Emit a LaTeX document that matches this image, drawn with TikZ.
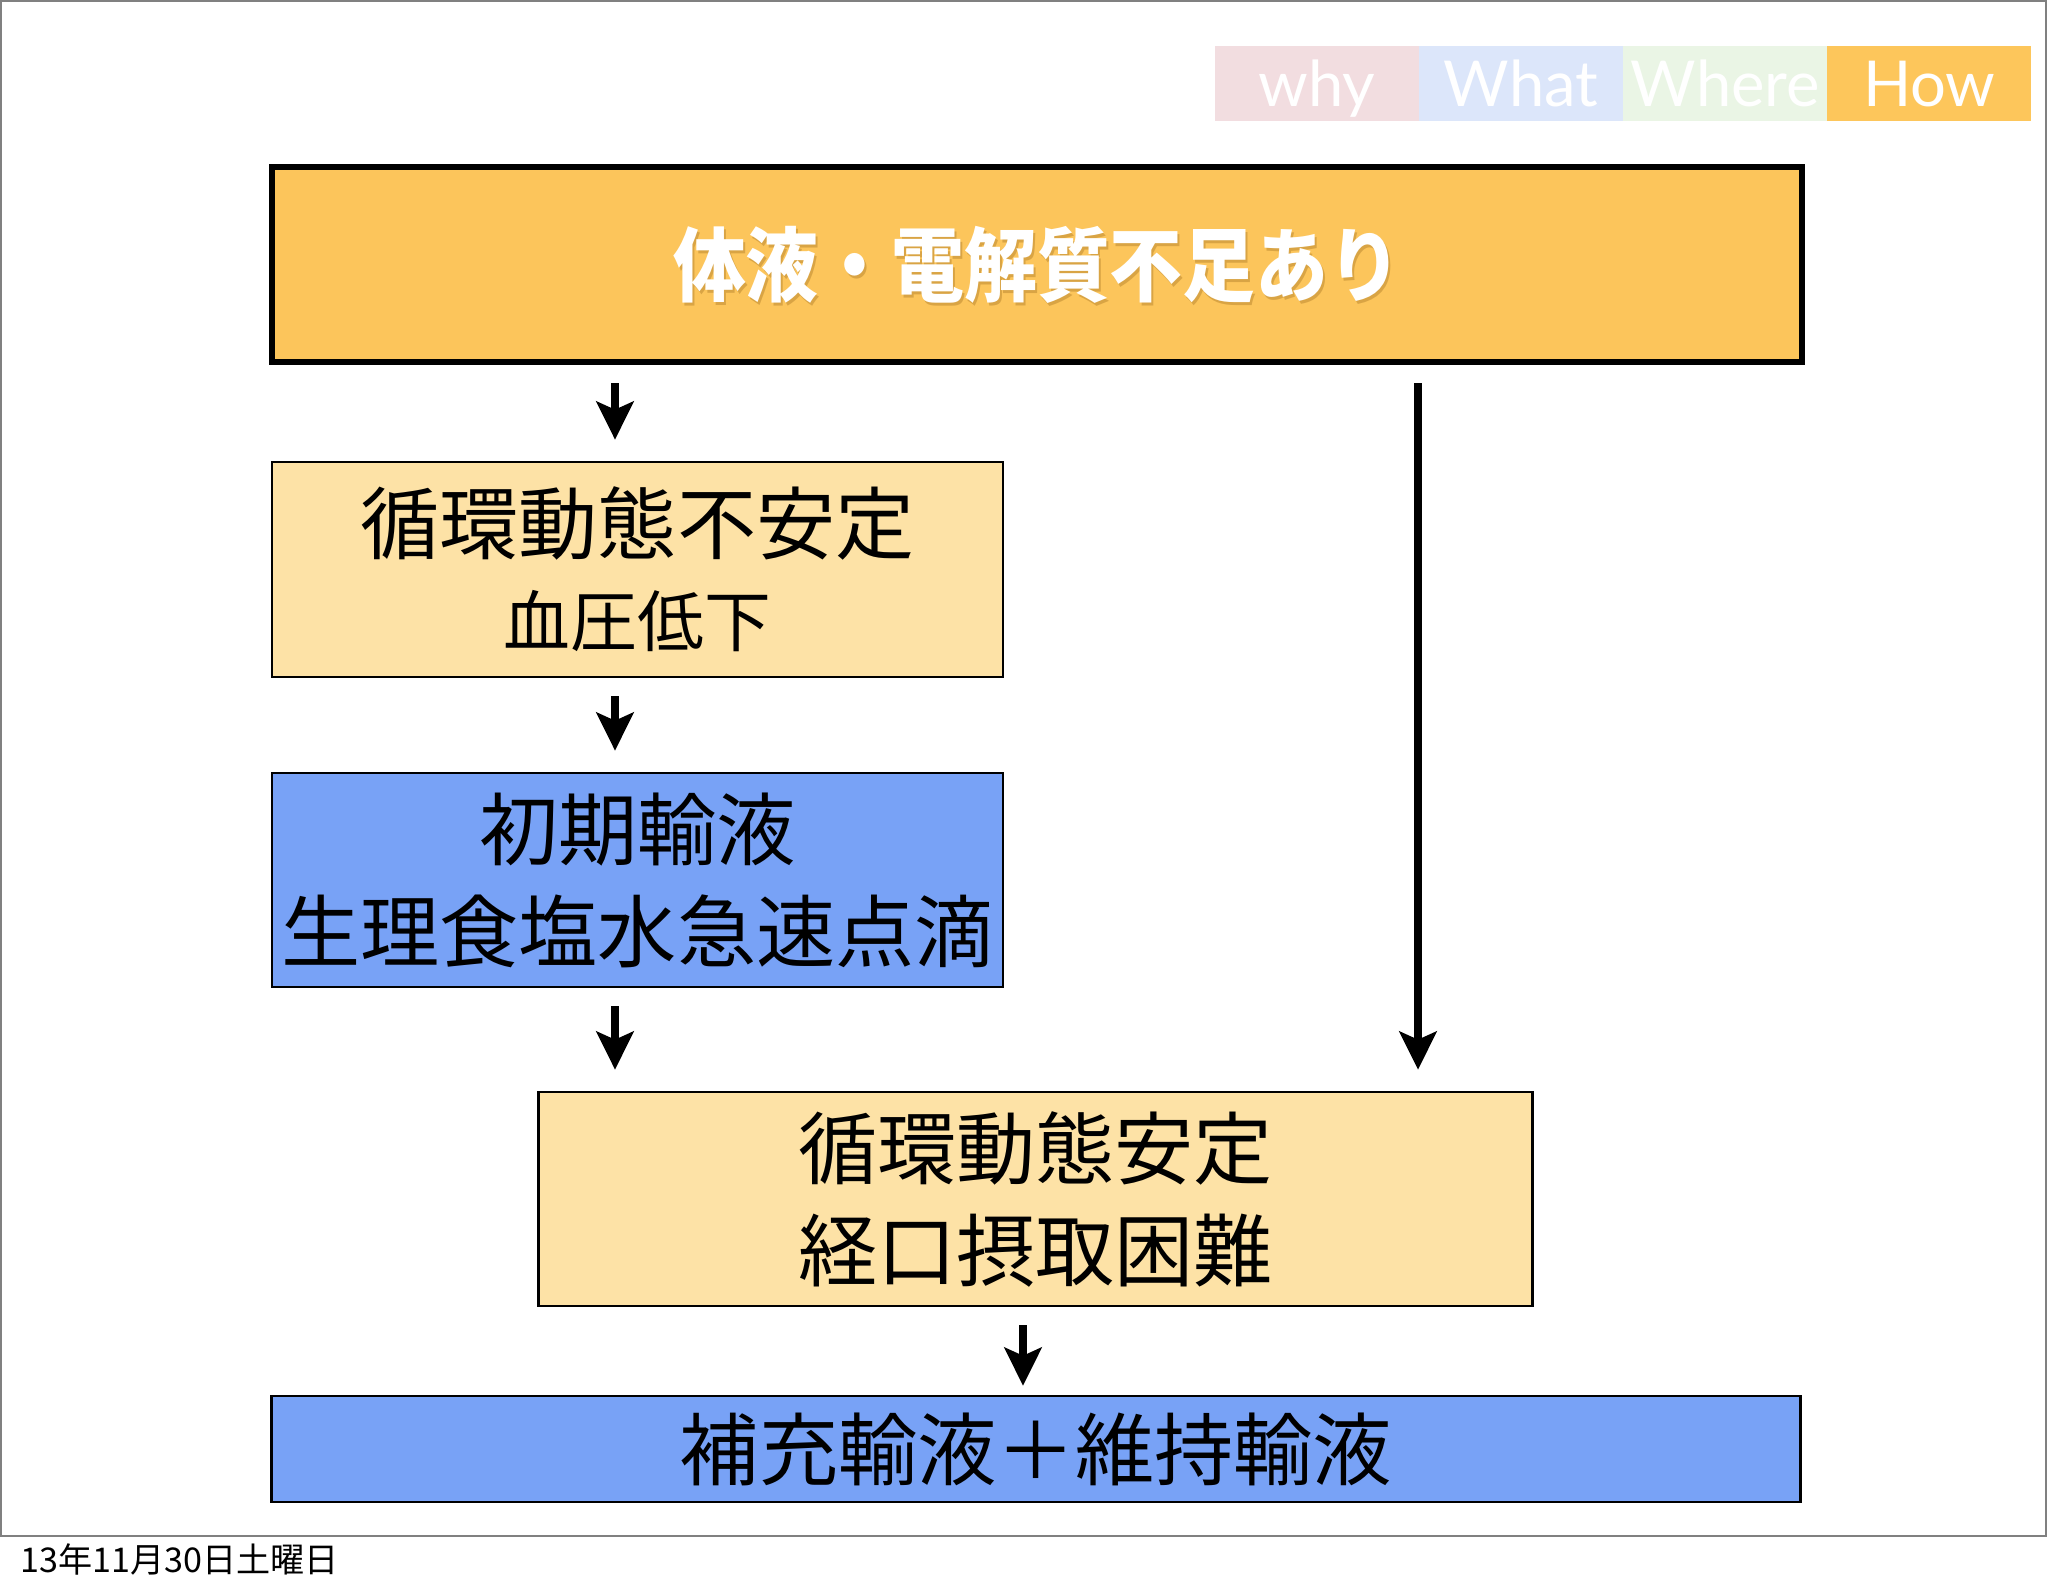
\documentclass[tikz,border=0pt]{standalone}
\usepackage{fontspec}
\setmainfont{Noto Sans CJK JP}
\newfontfamily\tabfont{Lato}
\newfontfamily\titlefont{Noto Sans CJK JP}[FakeStretch=0.9]
\usepackage{tikz}
\usetikzlibrary{arrows.meta, positioning, calc}
\definecolor{whyfill}{HTML}{F2DDE0}
\definecolor{whatfill}{HTML}{DCE6FA}
\definecolor{wherefill}{HTML}{EAF5E5}
\definecolor{howfill}{HTML}{FDC65B}
\definecolor{titlefill}{HTML}{FCC55B}
\definecolor{palefill}{HTML}{FDE2A6}
\definecolor{bluefill}{HTML}{78A2F6}
\definecolor{shadowcol}{HTML}{8A5A10}
\newcommand{\bigtext}{\fontsize{22.5pt}{29pt}\selectfont}

\begin{document}
\begin{tikzpicture}[x=0.01cm, y=-0.01cm,
		box/.style={draw=black, line width=0.025cm, align=center, inner sep=0pt, font=\bigtext},
		tab/.style={minimum width=2.04cm, minimum height=0.75cm, inner sep=0pt, outer sep=0pt, text=white, text height=13pt, text depth=0pt, font=\tabfont\fontsize{18pt}{20pt}\selectfont},
		arr/.style={line width=0.08cm, -{Stealth[length=0.38cm, width=0.37cm, inset=0.08cm]}, shorten <=0.18cm, shorten >=0.21cm}]
	\useasboundingbox (0,0) rectangle (2048,1593);
	
	% Slide frame and date
	\draw[gray, line width=0.02cm] (1,1) rectangle (2046,1536);
	\node[anchor=base west, inner sep=0pt, font=\fontsize{9.7pt}{12pt}\selectfont] (date) at (20,1572) {13年11月30日土曜日};
	
	% Tabs
	\node[tab, fill=whyfill] (why) at (1317,83.5) {why};
	\node[tab, fill=whatfill, right=0pt of why] (what) {What};
	\node[tab, fill=wherefill, right=0pt of what] (where) {Where};
	\node[tab, fill=howfill, right=0pt of where] (how) {How};
	
	% Title
	\node[draw=black, line width=0.06cm, fill=titlefill, minimum width=15.3cm, minimum height=1.95cm] (title) at (1037,264.5) {};
	\node[text=shadowcol, opacity=0.3, font=\titlefont\bfseries\fontsize{23pt}{26pt}\selectfont] (titleshadow) at ($(title)+(2,3)$) {体液・電解質不足あり};
	\node[text=white, font=\titlefont\bfseries\fontsize{23pt}{26pt}\selectfont] (titletext) at (title) {体液・電解質不足あり};
	
	% Unstable path
	\node[box, fill=palefill, minimum width=7.31cm, minimum height=2.15cm] (unstable) at (637.5,569.5) {循環動態不安定\\[-2.5pt]\fontsize{19pt}{27pt}\selectfont 血圧低下};
	\node[box, fill=bluefill, minimum width=7.31cm, minimum height=2.14cm] (initial) at (637.5,880) {初期輸液\\生理食塩水急速点滴};
	
	% Stable
	\node[box, fill=palefill, minimum width=9.93cm, minimum height=2.14cm] (stable) at (1035.5,1199) {循環動態安定\\経口摂取困難};
	
	% Maintenance
	\node[box, fill=bluefill, minimum width=15.28cm, minimum height=1.06cm] (maint) at (1036,1449) {補充輸液＋維持輸液};
	
	% Arrows
	\coordinate (leftcol) at (615,0);
	\coordinate (midcol) at (1023,0);
	\coordinate (rightcol) at (1418,0);
	\draw[arr] (title.south -| leftcol) -- (unstable.north -| leftcol);
	\draw[arr] (unstable.south -| leftcol) -- (initial.north -| leftcol);
	\draw[arr] (initial.south -| leftcol) -- (stable.north -| leftcol);
	\draw[arr] (title.south -| rightcol) -- (stable.north -| rightcol);
	\draw[arr, shorten >=0.09cm] (stable.south -| midcol) -- (maint.north -| midcol);
\end{tikzpicture}
\end{document}
